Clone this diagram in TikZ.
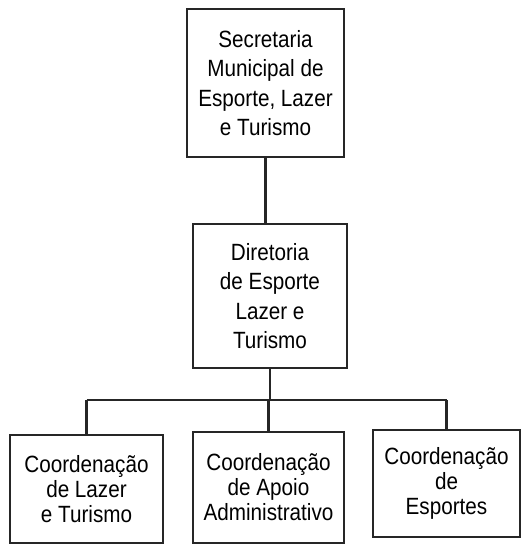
\documentclass[tikz,border=0pt]{standalone}
\usepackage{fontspec}
\setmainfont[FakeStretch=0.88]{Liberation Sans}
\usetikzlibrary{calc}

\begin{document}
\begin{tikzpicture}[x=1pt,y=-1pt,
	orgbox/.style={draw=black!85, line width=1.6pt, align=center, inner sep=0pt, font=\fontsize{23.5}{29.5}\selectfont},
	subbox/.style={orgbox, font=\fontsize{23.5}{25}\selectfont},
	link/.style={draw=black!85, line width=2.3pt}]
			\useasboundingbox (0,0) rectangle (529,546);
			\node[orgbox, minimum width=157pt, minimum height=148pt] (sec) at (265.5,83) {Secretaria\\Municipal de\\Esporte, Lazer\\e Turismo};
			\node[orgbox, minimum width=154pt, minimum height=144pt] (dir) at (270,296) {Diretoria\\de Esporte\\Lazer e\\Turismo};
			\node[subbox, minimum width=153pt, minimum height=108pt] (cl) at (86.5,489) {Coordenação\\de Lazer\\e Turismo};
			\node[subbox, minimum width=151pt, minimum height=111pt] (ca) at (268.5,487.5) {Coordenação\\de Apoio\\Administrativo};
			\node[subbox, minimum width=147pt, minimum height=107pt] (ce) at (446.5,483.5) {Coordenação\\de\\Esportes};
			\path (270,400) coordinate (bar);
			\draw[link]
			(sec.south) -- (sec.south|-dir.north)
			(dir.south) -- (dir.south|-bar)
			(cl.north|-bar) -- (ce.north|-bar)
			;
			\foreach \x in {cl,ca,ce} \draw[link] (\x.north) -- (\x.north|-bar);
		\end{tikzpicture}
\end{document}
